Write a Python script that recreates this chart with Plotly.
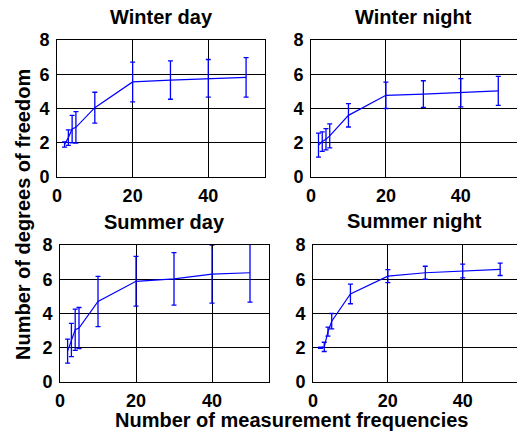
import plotly.graph_objects as go

freqs = [2, 3, 4, 5, 10, 20, 30, 40, 50]

winter_day_mean = [1.9, 2.3, 2.8, 2.9, 4.05, 5.55, 5.66, 5.76, 5.82]
winter_day_err = [0.15, 0.45, 0.8, 0.92, 0.9, 1.16, 1.12, 1.1, 1.15]

winter_night_mean = [1.86, 2.07, 2.2, 2.4, 3.6, 4.77, 4.84, 4.92, 5.03]
winter_night_err = [0.7, 0.57, 0.62, 0.7, 0.68, 0.77, 0.78, 0.83, 0.85]

summer_day_mean = [1.8, 2.45, 3.05, 3.15, 4.7, 5.88, 6.02, 6.3, 6.38]
summer_day_err = [0.7, 0.97, 1.2, 1.2, 1.47, 1.45, 1.53, 1.7, 1.72]

summer_night_mean = [2.0, 2.05, 2.94, 3.55, 5.14, 6.18, 6.38, 6.48, 6.58]
summer_night_err = [0.03, 0.27, 0.26, 0.45, 0.57, 0.38, 0.38, 0.4, 0.36]

titles = ["Winter day", "Winter night", "Summer day", "Summer night"]
x_ticks = [0, 20, 40]
y_ticks = [0, 2, 4, 6, 8]

W, H = 517, 434
# (mean, err, x pixel span, y pixel span, title y, x range max, right border shown)
panels = [
    (winter_day_mean, winter_day_err, (57, 265), (40, 177), 17, 55, True),
    (winter_night_mean, winter_night_err, (311, 517), (40, 177), 17, 55, False),
    (summer_day_mean, summer_day_err, (60, 269), (245, 382), 222, 55, True),
    (summer_night_mean, summer_night_err, (313, 517), (245, 382), 221, 54.5, False),
]

fig = go.Figure()
font_family = "Liberation Sans, Arial, sans-serif"
tick_font = dict(family=font_family, size=18, color="black", weight="bold")
label_font = dict(family=font_family, size=20, color="black", weight="bold")

annotations = []
for i, (mean, err, (x0, x1), (y0, y1), ty, xmax, right) in enumerate(panels):
    n = "" if i == 0 else str(i + 1)
    fig.add_trace(go.Scatter(
        x=freqs, y=mean, mode="lines",
        line=dict(color="#0000ff", width=1.2),
        error_y=dict(type="data", array=err, visible=True, color="#0000ff",
                     thickness=1.3, width=2.5),
        xaxis="x" + n, yaxis="y" + n, showlegend=False, hoverinfo="skip",
    ))
    common = dict(
        showgrid=True, gridcolor="black", gridwidth=1, zeroline=False,
        showline=True, linecolor="black", linewidth=1,
        ticks="inside", ticklen=4, tickcolor="black", tickfont=tick_font,
        fixedrange=True, automargin=False,
    )
    ax = dict(domain=[x0 / W, min(x1 / W, 1.0)], range=[0, xmax], tickvals=x_ticks,
              anchor="y" + n, ticklabelstandoff=2, mirror="ticks", **common)
    ay = dict(domain=[1 - y1 / H, 1 - y0 / H], range=[0, 8], tickvals=y_ticks,
              anchor="x" + n, ticklabelstandoff=3,
              mirror="ticks" if right else False, **common)
    fig.update_layout(**{"xaxis" + n: ax, "yaxis" + n: ay})
    annotations.append(dict(
        text=titles[i], x=(x0 + min(x1, 516)) / 2 / W, y=1 - ty / H,
        xref="paper", yref="paper", xanchor="center", yanchor="middle",
        showarrow=False, font=label_font,
    ))

annotations.append(dict(
    text="Number of measurement frequencies", x=291 / W, y=1 - 420 / H,
    xref="paper", yref="paper", xanchor="center", yanchor="middle",
    showarrow=False, font=label_font,
))
annotations.append(dict(
    text="Number of degrees of freedom", x=23 / W, y=1 - 215 / H,
    xref="paper", yref="paper", xanchor="center", yanchor="middle", textangle=-90,
    showarrow=False, font=label_font,
))

fig.update_layout(
    width=W, height=H, margin=dict(l=0, r=0, t=0, b=0, autoexpand=False),
    paper_bgcolor="white", plot_bgcolor="white",
    annotations=annotations,
)

fig.write_html("out.html", config={"displayModeBar": False},
               post_script="document.body.style.margin='0px';")
